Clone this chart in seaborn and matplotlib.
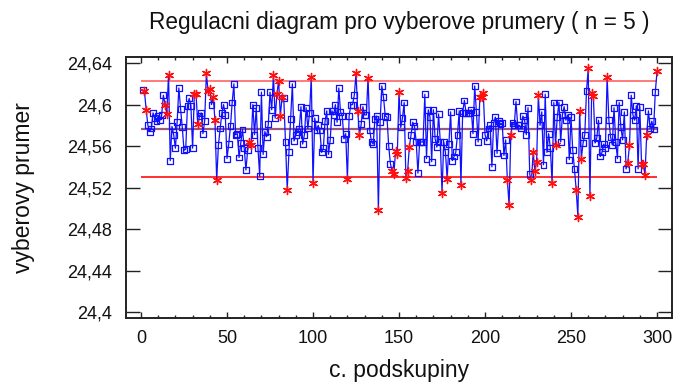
import numpy as np
import pandas as pd
import matplotlib
matplotlib.use("Agg")
import matplotlib.pyplot as plt
import seaborn as sns
from matplotlib.ticker import FixedLocator, MultipleLocator, FuncFormatter

# ------------------------------------------------------------------
# Data (subgroup means, n = 5)
# ------------------------------------------------------------------
subgroup_means = [
    24.614, 24.613, 24.595, 24.580, 24.574, 24.577, 24.592, 24.587, 24.584, 24.589,
    24.585, 24.590, 24.609, 24.600, 24.591, 24.629, 24.546, 24.579, 24.571, 24.558,
    24.583, 24.616, 24.596, 24.578, 24.556, 24.557, 24.599, 24.606, 24.599, 24.558,
    24.610, 24.610, 24.581, 24.589, 24.592, 24.572, 24.584, 24.630, 24.613, 24.615,
    24.600, 24.607, 24.585, 24.527, 24.561, 24.577, 24.592, 24.600, 24.590, 24.548,
    24.562, 24.579, 24.602, 24.620, 24.571, 24.572, 24.549, 24.563, 24.576, 24.558,
    24.537, 24.556, 24.564, 24.561, 24.600, 24.571, 24.597, 24.558, 24.531, 24.612,
    24.552, 24.574, 24.569, 24.581, 24.612, 24.595, 24.629, 24.587, 24.610, 24.623,
    24.589, 24.607, 24.606, 24.564, 24.518, 24.554, 24.586, 24.620, 24.565, 24.571,
    24.574, 24.577, 24.598, 24.562, 24.571, 24.597, 24.577, 24.592, 24.627, 24.524,
    24.587, 24.575, 24.580, 24.575, 24.554, 24.558, 24.584, 24.594, 24.552, 24.566,
    24.594, 24.590, 24.600, 24.583, 24.616, 24.593, 24.589, 24.567, 24.572, 24.528,
    24.589, 24.600, 24.600, 24.609, 24.630, 24.594, 24.571, 24.581, 24.598, 24.590,
    24.590, 24.626, 24.575, 24.564, 24.562, 24.586, 24.589, 24.498, 24.583, 24.618,
    24.607, 24.589, 24.588, 24.560, 24.543, 24.536, 24.533, 24.555, 24.552, 24.612,
    24.578, 24.587, 24.602, 24.529, 24.536, 24.559, 24.571, 24.583, 24.579, 24.564,
    24.534, 24.564, 24.564, 24.564, 24.610, 24.548, 24.595, 24.588, 24.545, 24.595,
    24.567, 24.559, 24.591, 24.564, 24.515, 24.564, 24.554, 24.528, 24.562, 24.593,
    24.546, 24.550, 24.554, 24.571, 24.594, 24.523, 24.592, 24.604, 24.592, 24.592,
    24.592, 24.595, 24.572, 24.618, 24.593, 24.564, 24.607, 24.607, 24.611, 24.571,
    24.565, 24.577, 24.580, 24.540, 24.582, 24.588, 24.553, 24.584, 24.581, 24.582,
    24.551, 24.566, 24.527, 24.503, 24.571, 24.582, 24.580, 24.603, 24.580, 24.580,
    24.577, 24.589, 24.585, 24.571, 24.597, 24.533, 24.527, 24.554, 24.536, 24.545,
    24.609, 24.580, 24.593, 24.542, 24.610, 24.554, 24.572, 24.558, 24.524, 24.602,
    24.561, 24.588, 24.602, 24.564, 24.590, 24.598, 24.585, 24.590, 24.547, 24.588,
    24.556, 24.538, 24.518, 24.492, 24.594, 24.548, 24.563, 24.571, 24.613, 24.635,
    24.512, 24.611, 24.608, 24.563, 24.568, 24.585, 24.550, 24.554, 24.562, 24.558,
    24.627, 24.585, 24.569, 24.561, 24.597, 24.564, 24.548, 24.602, 24.578, 24.566,
    24.593, 24.538, 24.544, 24.561, 24.609, 24.590, 24.585, 24.599, 24.538, 24.598,
    24.543, 24.543, 24.532, 24.571, 24.594, 24.577, 24.584, 24.576, 24.612, 24.632,
]

# subgroups marked with a red asterisk (out of limits / run rules)
flagged = [
    2, 3, 14, 15, 16, 31, 32, 33, 38, 39, 40, 42, 43, 44, 63, 64, 77, 79, 80, 81,
    82, 85, 99, 100, 120, 125, 126, 127, 132, 138, 146, 147, 148, 149, 150, 154,
    155, 156, 175, 178, 186, 197, 198, 199, 213, 214, 215, 227, 228, 229, 230, 231,
    239, 241, 253, 254, 255, 256, 260, 261, 262, 263, 271, 283, 284, 291, 292, 293,
    294, 300,
]

ucl = 24.6225
center = 24.5762
lcl = 24.5300

x_ticks = [0, 50, 100, 150, 200, 250, 300]
y_ticks = [24.40, 24.44, 24.48, 24.52, 24.56, 24.60, 24.64]

title = "Regulacni diagram pro vyberove prumery ( n = 5 )"
x_label = "c. podskupiny"
y_label = "vyberovy prumer"

# ------------------------------------------------------------------
df = pd.DataFrame({
    "subgroup": np.arange(1, len(subgroup_means) + 1),
    "mean": subgroup_means,
})
df["flag"] = df["subgroup"].isin(flagged)

sns.set_theme(style="ticks")
plt.rcParams.update({
    "font.family": ["Liberation Sans", "DejaVu Sans"],
    "axes.linewidth": 1.4,
    "axes.edgecolor": "#222222",
})

fig = plt.figure(figsize=(6.74, 3.83), dpi=100)
ax = fig.add_axes([0.1865, 0.170, 0.8105, 0.681])

# control limits
ax.hlines(ucl, 0, 300, color="#ff7070", lw=1.3, zorder=1)
ax.hlines(lcl, 0, 300, color="#ff2020", lw=1.3, zorder=1)
ax.hlines(center, 0, 300, color="#9a5a7e", lw=1.6, zorder=1)

sns.lineplot(data=df, x="subgroup", y="mean", color="#1010ff", lw=0.9,
             estimator=None, ax=ax, zorder=2)
sns.scatterplot(data=df[~df["flag"]], x="subgroup", y="mean", marker="s",
                s=18, facecolor="none", edgecolor="#1010ff", linewidth=0.9,
                ax=ax, zorder=3)
sns.scatterplot(data=df[df["flag"]], x="subgroup", y="mean", marker=(6, 2, 0),
                s=34, color="#ff1010", edgecolor="#ff1010", linewidth=1.0,
                ax=ax, zorder=4)

ax.set_xlim(-8.9, 308.7)
ax.set_ylim(24.3945, 24.6458)

ax.xaxis.set_major_locator(FixedLocator(x_ticks))
ax.xaxis.set_minor_locator(MultipleLocator(10))
ax.yaxis.set_major_locator(FixedLocator(y_ticks))
ax.yaxis.set_major_formatter(FuncFormatter(lambda v, p: f"{v:g}".replace(".", ",")))

ax.tick_params(axis="x", which="major", direction="in", length=4, width=1,
               top=True, bottom=True, labelsize=13, pad=9, colors="#222222")
ax.tick_params(axis="x", which="minor", direction="in", length=2, width=1,
               top=True, bottom=True)
ax.tick_params(axis="y", which="major", direction="in", length=10, width=1,
               left=True, right=True, labelsize=13, pad=10, colors="#222222")
ax.tick_params(labelcolor="#111111")

ax.set_xlabel(x_label, fontsize=16.5, labelpad=8, color="#111111")
ax.set_ylabel(y_label, fontsize=16.5, labelpad=23, color="#111111")
ax.set_title(title, fontsize=16.3, pad=20, color="#111111")

fig.savefig("out.png", dpi=100)
